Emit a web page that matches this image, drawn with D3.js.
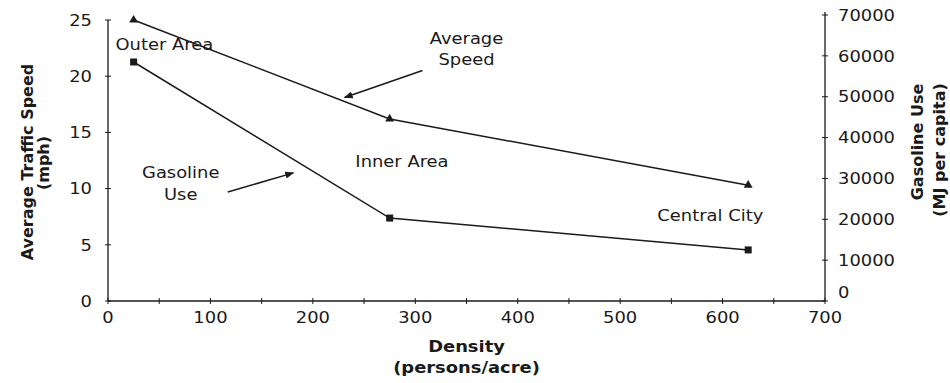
<!DOCTYPE html>
<html>
<head>
<meta charset="utf-8">
<script src="https://cdn.jsdelivr.net/npm/d3@7"></script>
<style>
  html, body { margin: 0; padding: 0; background: #fff; }
  svg { display: block; }
  text { font-family: "DejaVu Sans", "Liberation Sans", sans-serif; fill: #1a1a1a; }
</style>
</head>
<body>
<svg id="chart" width="950" height="383"></svg>
<script>
// ---- data ----
const areas = ["Outer Area", "Inner Area", "Central City"];
const density = [25, 275, 625];
const speed = [25, 16.2, 10.3];
const gasoline = [58500, 20300, 12500];

const xTicks = [0, 100, 200, 300, 400, 500, 600, 700];
const xMinorTicks = [50, 150, 250, 350, 450, 550, 650];
const yLeftTicks = [0, 5, 10, 15, 20, 25];
const yRightTicks = [0, 10000, 20000, 30000, 40000, 50000, 60000, 70000];

// annotation labels (in data units: density, speed)
const areaLabelPos = [[55, 22.3], [287, 11.9], [588, 7.1]];
const seriesLabels = [
  { lines: ["Average", "Speed"], at: [350, 22.9] },
  { lines: ["Gasoline", "Use"], at: [71, 10.94] }
];
const arrows = [
  { from: [307, 20.5], to: [231, 18.1] },
  { from: [117, 9.7], to: [181, 11.4] }
];

// ---- layout ----
const svg = d3.select("#chart");
const x = d3.scaleLinear().domain([0, 700]).range([108, 825]);
const yL = d3.scaleLinear().domain([0, 25]).range([301, 20]);
const yR = d3.scaleLinear().domain([0, 70000]).range([301, 15]);

const ink = "#1a1a1a";
const SX = 1.12; // horizontal stretch of the scanned lettering

function label(px, py, txt, opts) {
  const g = svg.append("g").attr("transform", `translate(${px},${py}) scale(${SX},1)`);
  const t = g.append("text").attr("x", 0).attr("y", 0)
    .attr("text-anchor", opts.anchor || "middle")
    .attr("font-size", opts.size || 16)
    .text(txt);
  if (opts.bold) t.attr("font-weight", "bold");
  if (opts.dy) t.attr("dy", opts.dy);
  return t;
}

// axes lines
svg.append("line").attr("x1", x(0)).attr("x2", x(700)).attr("y1", yL(0)).attr("y2", yL(0))
  .attr("stroke", ink).attr("stroke-width", 1.3);
svg.append("line").attr("x1", x(0)).attr("x2", x(0)).attr("y1", yL(0)).attr("y2", yL(25))
  .attr("stroke", ink).attr("stroke-width", 1.3);
svg.append("line").attr("x1", x(700)).attr("x2", x(700)).attr("y1", yR(0)).attr("y2", yR(70000) - 3)
  .attr("stroke", ink).attr("stroke-width", 1.3);

// x ticks
const allX = xTicks.concat(xMinorTicks);
svg.selectAll(".xt").data(allX).enter().append("line")
  .attr("x1", d => x(d)).attr("x2", d => x(d))
  .attr("y1", yL(0) - 3).attr("y2", yL(0) + 3)
  .attr("stroke", ink).attr("stroke-width", 1);
xTicks.forEach(d => label(x(d), yL(0) + 22, d, { size: 16 }));

// left ticks
svg.selectAll(".ylt").data(yLeftTicks).enter().append("line")
  .attr("x1", x(0) - 3).attr("x2", x(0) + 3)
  .attr("y1", d => yL(d)).attr("y2", d => yL(d))
  .attr("stroke", ink).attr("stroke-width", 1);
yLeftTicks.forEach(d => label(x(0) - 16, yL(d), d, { size: 16, anchor: "end", dy: "0.36em" }));

// right ticks
svg.selectAll(".yrt").data(yRightTicks).enter().append("line")
  .attr("x1", x(700) - 3).attr("x2", x(700) + 3)
  .attr("y1", d => yR(d)).attr("y2", d => yR(d))
  .attr("stroke", ink).attr("stroke-width", 1);
yRightTicks.forEach(d => label(x(700) + 13, yR(d) - (d === 0 ? 9 : 0), d, { size: 16, anchor: "start", dy: "0.36em" }));

// axis titles
label(x(350), 352, "Density", { size: 16, bold: true });
label(x(350), 373, "(persons/acre)", { size: 16, bold: true });

svg.append("text").attr("transform", "translate(33,162) rotate(-90)").attr("text-anchor", "middle")
  .attr("font-size", 16).attr("font-weight", "bold").text("Average Traffic Speed");
svg.append("text").attr("transform", "translate(49,163) rotate(-90)").attr("text-anchor", "middle")
  .attr("font-size", 16).attr("font-weight", "bold").text("(mph)");

svg.append("text").attr("transform", "translate(923,142) rotate(-90)").attr("text-anchor", "middle")
  .attr("font-size", 16).attr("font-weight", "bold").text("Gasoline Use");
svg.append("text").attr("transform", "translate(945,150) rotate(-90)").attr("text-anchor", "middle")
  .attr("font-size", 16).attr("font-weight", "bold").text("(MJ per capita)");

// series lines
const speedPts = density.map((d, i) => [x(d), yL(speed[i])]);
const gasPts = density.map((d, i) => [x(d), yR(gasoline[i])]);
const line = d3.line();
svg.append("path").attr("d", line(speedPts)).attr("fill", "none").attr("stroke", ink).attr("stroke-width", 1.5);
svg.append("path").attr("d", line(gasPts)).attr("fill", "none").attr("stroke", ink).attr("stroke-width", 1.5);

// markers
const tri = d3.symbol().type(d3.symbolTriangle).size(34);
svg.selectAll(".tri").data(speedPts).enter().append("path")
  .attr("d", tri).attr("transform", d => `translate(${d[0]},${d[1]})`).attr("fill", ink);
svg.selectAll(".sq").data(gasPts).enter().append("rect")
  .attr("x", d => d[0] - 3.5).attr("y", d => d[1] - 3.5).attr("width", 7).attr("height", 7).attr("fill", ink);

// area labels
areas.forEach((a, i) => label(x(areaLabelPos[i][0]), yL(areaLabelPos[i][1]), a, { size: 16 }));

// series labels
seriesLabels.forEach(s => {
  s.lines.forEach((t, j) => label(x(s.at[0]), yL(s.at[1]) + j * 21.5, t, { size: 16 }));
});

// arrows
svg.append("defs").append("marker").attr("id", "ah").attr("viewBox", "0 0 10 10")
  .attr("refX", 9).attr("refY", 5).attr("markerWidth", 9).attr("markerHeight", 9)
  .attr("markerUnits", "userSpaceOnUse").attr("orient", "auto")
  .append("path").attr("d", "M0,1 L10,5 L0,9 Z").attr("fill", ink);
svg.selectAll(".arr").data(arrows).enter().append("line")
  .attr("x1", d => x(d.from[0])).attr("y1", d => yL(d.from[1]))
  .attr("x2", d => x(d.to[0])).attr("y2", d => yL(d.to[1]))
  .attr("stroke", ink).attr("stroke-width", 1.5).attr("marker-end", "url(#ah)");
</script>
</body>
</html>
